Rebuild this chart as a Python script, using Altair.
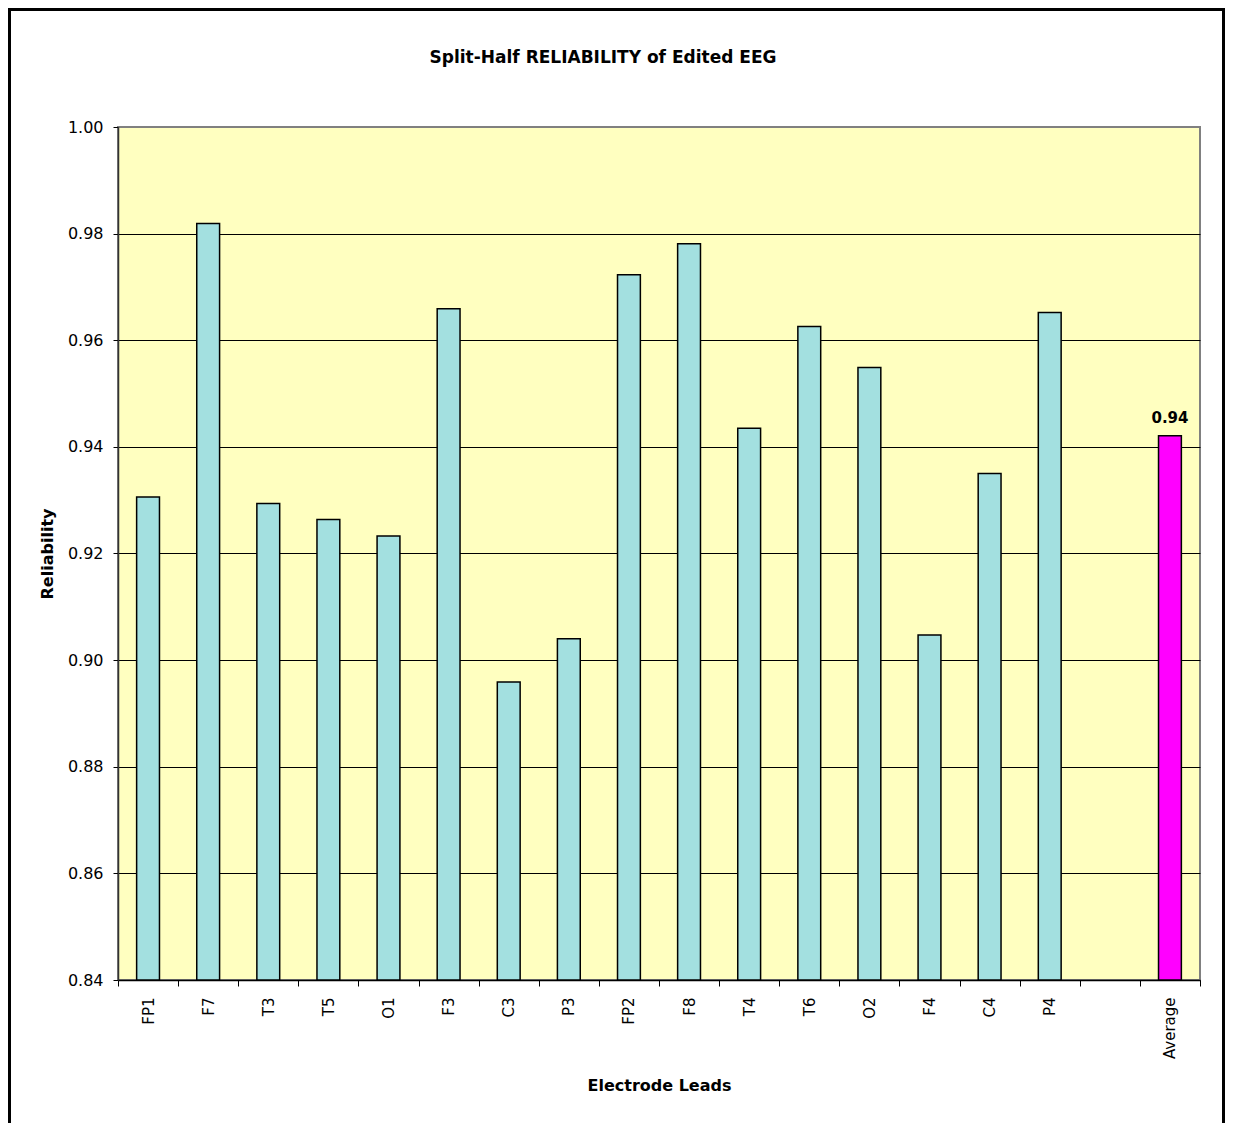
import altair as alt
import pandas as pd

categories = ["FP1", "F7", "T3", "T5", "O1", "F3", "C3", "P3", "FP2", "F8",
              "T4", "T6", "O2", "F4", "C4", "P4", " ", "Average"]
values = [0.9306, 0.9819, 0.9294, 0.9264, 0.9233, 0.9659, 0.8959, 0.9040,
          0.9723, 0.9781, 0.9435, 0.9626, 0.9549, 0.9047, 0.9350, 0.9652,
          None, 0.9421]
kinds = ["lead"] * 16 + ["gap", "average"]
y_ticks = [0.84, 0.86, 0.88, 0.90, 0.92, 0.94, 0.96, 0.98, 1.00]
y_min = 0.84

df = pd.DataFrame({"lead": categories, "value": values, "kind": kinds})

x_enc = alt.X(
    "lead:N",
    sort=categories,
    scale=alt.Scale(domain=categories, paddingInner=0, paddingOuter=0),
    axis=alt.Axis(
        title="Electrode Leads",
        labelAngle=-90,
        tickBand="extent",
        tickSize=6,
        labelPadding=11,
        labelFont="DejaVu Sans",
        labelFontSize=15,
        labelColor="black",
        domainColor="black",
        domainWidth=1.5,
        tickColor="black",
        tickWidth=1,
        grid=False,
        titleFont="DejaVu Sans",
        titleFontSize=16,
        titleFontWeight="bold",
        titleColor="black",
        titleBaseline="alphabetic",
        titleY=110,
    ),
)

y_enc = alt.Y(
    "value:Q",
    scale=alt.Scale(domain=[y_min, 1.0], zero=False, nice=False),
    axis=alt.Axis(
        title="Reliability",
        values=y_ticks,
        format=".2f",
        tickSize=5,
        labelPadding=10,
        labelFont="DejaVu Sans",
        labelFontSize=16,
        labelColor="black",
        domainColor="#333333",
        domainWidth=1.5,
        tickColor="black",
        grid=True,
        gridColor={"condition": {"test": "datum.value >= 0.999", "value": "#808080"}, "value": "black"},
        gridWidth=1,
        titleFont="DejaVu Sans",
        titleFontSize=16,
        titleFontWeight="bold",
        titleColor="black",
        titleBaseline="alphabetic",
        titleX=-66,
    ),
)

bars = alt.Chart(df).mark_bar(
    width=alt.RelativeBandSize(0.38),
    stroke="black",
    strokeWidth=1.5,
).encode(
    x=x_enc,
    y=y_enc,
    y2=alt.datum(y_min),
    color=alt.Color(
        "kind:N",
        scale=alt.Scale(domain=["lead", "gap", "average"],
                        range=["#A3E0E0", "#A3E0E0", "#FF00FF"]),
        legend=None,
    ),
)

label = alt.Chart(df).transform_filter(
    alt.datum.kind == "average"
).mark_text(
    font="DejaVu Sans",
    fontSize=15,
    fontWeight="bold",
    color="black",
    baseline="alphabetic",
    dy=-13,
).encode(
    x=alt.X("lead:N", sort=categories),
    y=alt.Y("value:Q"),
    text=alt.Text("value:Q", format=".2f"),
)

frame = alt.Chart(pd.DataFrame({"f": [0]})).mark_rect(
    fillOpacity=0,
    stroke="black",
    strokeWidth=3,
).encode(
    x=alt.value(-108.5),
    x2=alt.value(1105.5),
    y=alt.value(-117.5),
    y2=alt.value(1010),
)

chart = alt.layer(bars, label, frame).properties(
    width=1082,
    height=853,
    title=alt.TitleParams(
        text="Split-Half RELIABILITY of Edited EEG",
        font="DejaVu Sans",
        fontSize=17,
        fontWeight="bold",
        color="black",
        anchor="middle",
        frame="group",
        baseline="alphabetic",
        offset=0,
        dy=72,
        dx=-56,
    ),
    autosize=alt.AutoSizeParams(type="none"),
    padding={"left": 110, "top": 119, "right": 25, "bottom": 143},
    background="white",
).configure_view(
    fill="#FFFFC0",
    stroke="#808080",
    strokeWidth=2,
)

chart.save("out.html", embed_options={"renderer": "svg", "actions": False})
